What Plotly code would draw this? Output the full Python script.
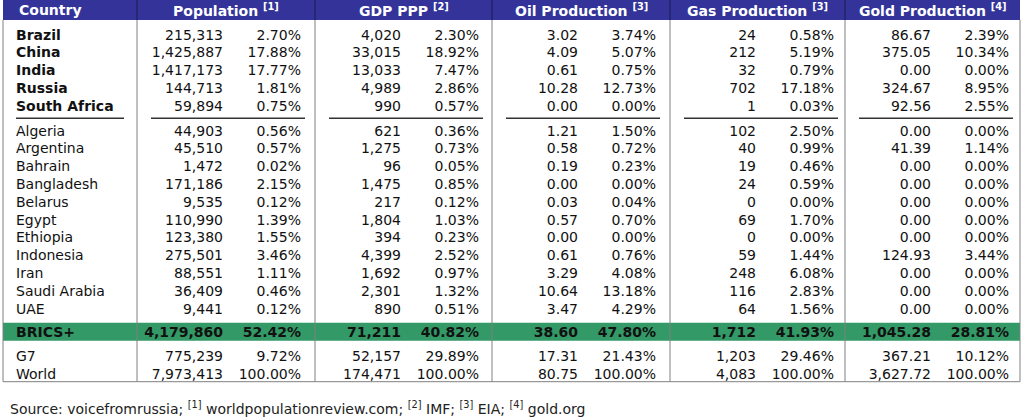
import plotly.graph_objects as go

# --- data (population in thousands, GDP PPP in bn USD, oil in mb/d, gas in bcm, gold in tonnes)
core_countries = ["Brazil", "China", "India", "Russia", "South Africa"]
core_pop = [215313, 1425887, 1417173, 144713, 59894]
core_pop_pct = [2.70, 17.88, 17.77, 1.81, 0.75]
core_gdp = [4020, 33015, 13033, 4989, 990]
core_gdp_pct = [2.30, 18.92, 7.47, 2.86, 0.57]
core_oil = [3.02, 4.09, 0.61, 10.28, 0.00]
core_oil_pct = [3.74, 5.07, 0.75, 12.73, 0.00]
core_gas = [24, 212, 32, 702, 1]
core_gas_pct = [0.58, 5.19, 0.79, 17.18, 0.03]
core_gold = [86.67, 375.05, 0.00, 324.67, 92.56]
core_gold_pct = [2.39, 10.34, 0.00, 8.95, 2.55]

new_countries = ["Algeria", "Argentina", "Bahrain", "Bangladesh", "Belarus", "Egypt",
                 "Ethiopia", "Indonesia", "Iran", "Saudi Arabia", "UAE"]
new_pop = [44903, 45510, 1472, 171186, 9535, 110990, 123380, 275501, 88551, 36409, 9441]
new_pop_pct = [0.56, 0.57, 0.02, 2.15, 0.12, 1.39, 1.55, 3.46, 1.11, 0.46, 0.12]
new_gdp = [621, 1275, 96, 1475, 217, 1804, 394, 4399, 1692, 2301, 890]
new_gdp_pct = [0.36, 0.73, 0.05, 0.85, 0.12, 1.03, 0.23, 2.52, 0.97, 1.32, 0.51]
new_oil = [1.21, 0.58, 0.19, 0.00, 0.03, 0.57, 0.00, 0.61, 3.29, 10.64, 3.47]
new_oil_pct = [1.50, 0.72, 0.23, 0.00, 0.04, 0.70, 0.00, 0.76, 4.08, 13.18, 4.29]
new_gas = [102, 40, 19, 24, 0, 69, 0, 59, 248, 116, 64]
new_gas_pct = [2.50, 0.99, 0.46, 0.59, 0.00, 1.70, 0.00, 1.44, 6.08, 2.83, 1.56]
new_gold = [0.00, 41.39, 0.00, 0.00, 0.00, 0.00, 0.00, 124.93, 0.00, 0.00, 0.00]
new_gold_pct = [0.00, 1.14, 0.00, 0.00, 0.00, 0.00, 0.00, 3.44, 0.00, 0.00, 0.00]

total_rows = ["BRICS+", "G7", "World"]
total_pop = [4179860, 775239, 7973413]
total_pop_pct = [52.42, 9.72, 100.00]
total_gdp = [71211, 52157, 174471]
total_gdp_pct = [40.82, 29.89, 100.00]
total_oil = [38.60, 17.31, 80.75]
total_oil_pct = [47.80, 21.43, 100.00]
total_gas = [1712, 1203, 4083]
total_gas_pct = [41.93, 29.46, 100.00]
total_gold = [1045.28, 367.21, 3627.72]
total_gold_pct = [28.81, 10.12, 100.00]

headers = ["Population <sup>[1]</sup>", "GDP PPP <sup>[2]</sup>", "Oil Production <sup>[3]</sup>",
           "Gas Production <sup>[3]</sup>", "Gold Production <sup>[4]</sup>"]
value_formats = ["{:,.0f}", "{:,.0f}", "{:,.2f}", "{:,.0f}", "{:,.2f}"]

# --- layout constants (pixel space of the 1024x420 window)
W, H = 1024, 420
X0, X1 = 3, 1020
COL_STARTS = [137, 315, 492, 670, 845]
VAL_OFF, PCT_OFF = 86, 164
HEAD_H = 20
CORE_Y0, NEW_Y0, PITCH = 36, 132, 17.8
TOTAL_Y = [333, 357.5, 375]
BOTTOM = 381.7
UNDER_Y = 118.3
GREEN_Y = (322.7, 340.7)

BLUE = "#333399"
GREEN = "#339966"
FONT = "DejaVu Sans, Verdana, sans-serif"

core_y = [CORE_Y0 + i * PITCH for i in range(len(core_countries))]
new_y = [NEW_Y0 + i * PITCH for i in range(len(new_countries))]

groups = [
    (core_countries, core_y, [core_pop, core_gdp, core_oil, core_gas, core_gold],
     [core_pop_pct, core_gdp_pct, core_oil_pct, core_gas_pct, core_gold_pct]),
    (new_countries, new_y, [new_pop, new_gdp, new_oil, new_gas, new_gold],
     [new_pop_pct, new_gdp_pct, new_oil_pct, new_gas_pct, new_gold_pct]),
    (total_rows, TOTAL_Y, [total_pop, total_gdp, total_oil, total_gas, total_gold],
     [total_pop_pct, total_gdp_pct, total_oil_pct, total_gas_pct, total_gold_pct]),
]

fig = go.Figure()

for gi, (names, ys, vals, pcts) in enumerate(groups):
    bold_name = gi == 0
    names_txt = [f"<b>{n}</b>" if (bold_name or n == "BRICS+") else n for n in names]
    fig.add_trace(go.Scatter(x=[16] * len(names), y=ys, text=names_txt, mode="text",
                             textposition="middle right", hoverinfo="skip",
                             textfont=dict(size=14, color="#111111", family=FONT)))
    for ci, start in enumerate(COL_STARTS):
        vtxt = [value_formats[ci].format(v) for v in vals[ci]]
        ptxt = [f"{p:.2f}%" for p in pcts[ci]]
        if gi == 2:
            vtxt = [f"<b>{t}</b>" if n == "BRICS+" else t for t, n in zip(vtxt, names)]
            ptxt = [f"<b>{t}</b>" if n == "BRICS+" else t for t, n in zip(ptxt, names)]
        fig.add_trace(go.Scatter(x=[start + VAL_OFF] * len(ys), y=ys, text=vtxt, mode="text",
                                 textposition="middle left", hoverinfo="skip",
                                 textfont=dict(size=14, color="#111111", family=FONT)))
        fig.add_trace(go.Scatter(x=[start + PCT_OFF] * len(ys), y=ys, text=ptxt, mode="text",
                                 textposition="middle left", hoverinfo="skip",
                                 textfont=dict(size=14, color="#111111", family=FONT)))

shapes = []
# header bar and green total band
shapes.append(dict(type="rect", x0=X0, x1=X1, y0=0, y1=HEAD_H, fillcolor=BLUE, line_width=0, layer="below"))
shapes.append(dict(type="rect", x0=X0, x1=X1, y0=GREEN_Y[0], y1=GREEN_Y[1], fillcolor=GREEN,
                   line_width=0, layer="below"))
# grid lines
for x in [X0] + COL_STARTS + [X1]:
    shapes.append(dict(type="line", x0=x, x1=x, y0=HEAD_H, y1=BOTTOM, line=dict(color="#808080", width=1)))
for x in COL_STARTS:
    shapes.append(dict(type="line", x0=x, x1=x, y0=0, y1=HEAD_H, line=dict(color="#1a1a4d", width=1)))
shapes.append(dict(type="line", x0=X0, x1=X1, y0=BOTTOM, y1=BOTTOM, line=dict(color="#808080", width=1)))
# underline below the original BRICS members
shapes.append(dict(type="line", x0=16, x1=124, y0=UNDER_Y, y1=UNDER_Y, line=dict(color="#333333", width=1.5)))
for start in COL_STARTS:
    shapes.append(dict(type="line", x0=start + 14, x1=start + 168, y0=UNDER_Y, y1=UNDER_Y,
                       line=dict(color="#333333", width=1.5)))

annotations = [dict(x=17, y=HEAD_H / 2, text="<b>Country</b>", showarrow=False, xanchor="left",
                    yanchor="middle", font=dict(size=14, color="white", family=FONT))]
ends = COL_STARTS[1:] + [X1]
for start, end, h in zip(COL_STARTS, ends, headers):
    annotations.append(dict(x=(start + end) / 2, y=HEAD_H / 2, text=f"<b>{h}</b>", showarrow=False,
                            xanchor="center", yanchor="middle",
                            font=dict(size=14, color="white", family=FONT)))
annotations.append(dict(
    x=8, y=408,
    text="Source: voicefromrussia; <sup>[1]</sup> worldpopulationreview.com; <sup>[2]</sup> IMF; "
         "<sup>[3]</sup> EIA; <sup>[4]</sup> gold.org",
    showarrow=False, xanchor="left", yanchor="middle",
    font=dict(size=14, color="#222222", family=FONT)))

fig.update_layout(
    width=W, height=H,
    margin=dict(l=0, r=0, t=0, b=0),
    paper_bgcolor="white", plot_bgcolor="white",
    showlegend=False,
    hovermode=False,
    xaxis=dict(range=[0, W], visible=False, fixedrange=True),
    yaxis=dict(range=[H, 0], visible=False, fixedrange=True),
    shapes=shapes,
    annotations=annotations,
)

# drop the page's default body margin so the figure sits at the window corner
fig.write_html("out.html", config={"displayModeBar": False},
               post_script="document.body.style.margin = '0';")
